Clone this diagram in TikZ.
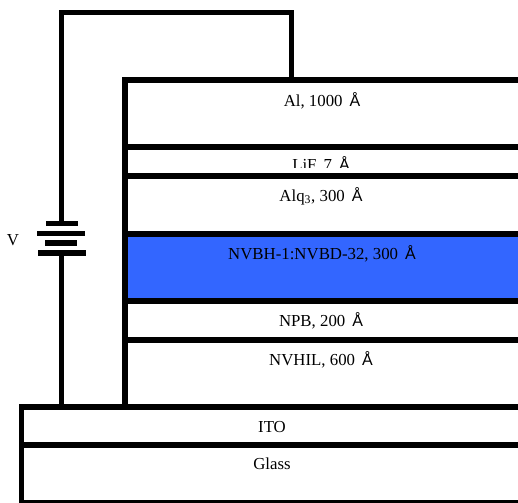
\documentclass[tikz,border=0pt]{standalone}
\usepackage{fontspec}
\setmainfont{Liberation Serif}
\newfontfamily\angfont{Liberation Sans}
\newcommand{\ang}{\,{\angfont\fontsize{12pt}{12pt}\selectfont Å}}
\usetikzlibrary{positioning, calc}

\begin{document}
\begin{tikzpicture}[
      x=0.75pt, y=-0.75pt,
      font=\fontsize{12.6pt}{14pt}\selectfont,
      layerbox/.style={draw, line width=3.9pt, fill=white, anchor=north west, minimum width=420pt, inner sep=0pt, outer sep=0pt},
      wire/.style={draw, line width=3.9pt},
      longplate/.style={fill=black, minimum width=36pt, minimum height=4pt, inner sep=0pt},
      shortplate/.style={fill=black, minimum width=24pt, minimum height=4pt, inner sep=0pt},
      label/.style={inner sep=0pt},
  ]
  \useasboundingbox (0,0) rectangle (518,503);
  \clip (0,0) rectangle (518,503);

  % Battery plates
  \node[shortplate] (plateA) at (61.5,223.5) {};
  \node[longplate] (plateB) at (61,233.5) {};
  \node[shortplate] (plateC) at (61,243) {};
  \node[longplate] (plateD) at (61.5,253) {};
  \node[label] (vlabel) at (13,240) {V};

  % Substrate
  \node[layerbox, minimum height=71.6pt] (glass) at (21.5,407) {};
  \node[layerbox, minimum height=28.5pt] (ito) at (21.5,407) {};

  % Lead from the battery to the bottom electrode
  \coordinate (bottomtap) at (61.5,407);
  \draw[wire] (plateD.center) -- (bottomtap);

  % Stack
  \node[layerbox, minimum height=245.25pt] (al) at (125,80) {};
  \node[layerbox, minimum height=195pt] (lif) at (125,147) {};
  \node[label] (liflabel) at (321,165) {LiF, 7 \ang};
  \fill[white] (130,167.5) rectangle (518,172.5);
  \node[layerbox, minimum height=173.25pt] (alq) at (125,176) {};
  \node[layerbox, minimum height=50.25pt, fill={rgb,255:red,51;green,102;blue,255}] (eml) at (125,234) {};
  \node[layerbox, minimum height=29.25pt] (npb) at (125,301) {};
  \node[layerbox, minimum height=50.25pt] (hil) at (125,340) {};

  % Top lead
  \coordinate (wiretop) at (61.5,12.5);
  \coordinate (toptap) at (291.5,80);
  \draw[wire, line join=miter] (plateA.center) -- (wiretop) -| (toptap);

  % Labels
  \node[label] (allabel) at (322,101) {Al, 1000 \ang};
  \node[label] (alqlabel) at (321,196) {Alq\textsubscript{3}, 300 \ang};
  \node[label] (emllabel) at (322,254) {NVBH-1:NVBD-32, 300 \ang};
  \node[label] (npblabel) at (321,321) {NPB, 200 \ang};
  \node[label] (hillabel) at (321,360) {NVHIL, 600 \ang};
  \node[label] (itolabel) at (272,427) {ITO};
  \node[label] (glasslabel) at (272,464) {Glass};

\end{tikzpicture}
\end{document}
